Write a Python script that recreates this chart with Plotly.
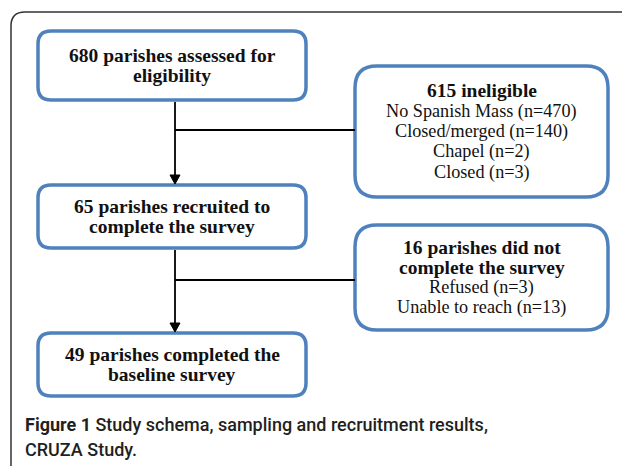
import plotly.graph_objects as go

W, H = 622, 466

main_labels = [
    ["680 parishes assessed for", "eligibility"],
    ["65 parishes recruited to", "complete the survey"],
    ["49 parishes completed the", "baseline survey"],
]
side_titles = [["615 ineligible"], ["16 parishes did not", "complete the survey"]]
side_items = [
    ["No Spanish Mass (n=470)", "Closed/merged (n=140)", "Chapel (n=2)", "Closed (n=3)"],
    ["Refused (n=3)", "Unable to reach (n=13)"],
]
caption_lines = [
    "<b>Figure 1</b> Study schema, sampling and recruitment results,",
    "CRUZA Study.",
]

BLUE = "#4f81bd"
SERIF = "Liberation Serif"
TXT = "#111111"
LS = 20.3

# box geometry (x0, y0, x1, y1)
main_boxes = [(38, 31, 306, 100), (38, 185, 306, 248), (38, 333, 306, 396)]
side_boxes = [(355, 66, 608, 197), (355, 225, 608, 330)]
branch_y = [130, 280]
stem_x = 175


def rrect(x0, y0, x1, y1, r):
    return (f"M{x0+r},{y0} L{x1-r},{y0} Q{x1},{y0} {x1},{y0+r} "
            f"L{x1},{y1-r} Q{x1},{y1} {x1-r},{y1} L{x0+r},{y1} "
            f"Q{x0},{y1} {x0},{y1-r} L{x0},{y0+r} Q{x0},{y0} {x0+r},{y0} Z")


shapes = []
annotations = []


def add_lines(cx, cy, lines):
    n = len(lines)
    for k, (txt, bold) in enumerate(lines):
        y = cy + (k - (n - 1) / 2) * LS
        annotations.append(dict(
            x=cx, y=y, xref="x", yref="y", showarrow=False,
            text=f"<b>{txt}</b>" if bold else txt,
            font=dict(family=SERIF, size=19.5 if bold else 18.2, color=TXT)))


# outer frame
shapes.append(dict(type="path", xref="x", yref="y",
                   path="M11,470 L11,26 Q11,12 25,12 L640,12",
                   line=dict(color="#333333", width=1.5)))

for (x0, y0, x1, y1), lab in zip(main_boxes, main_labels):
    shapes.append(dict(type="path", xref="x", yref="y", path=rrect(x0, y0, x1, y1, 13),
                       line=dict(color=BLUE, width=3.5), fillcolor="white"))
    add_lines((x0 + x1) / 2, (y0 + y1) / 2, [(t, True) for t in lab])

for (x0, y0, x1, y1), t, items in zip(side_boxes, side_titles, side_items):
    shapes.append(dict(type="path", xref="x", yref="y", path=rrect(x0, y0, x1, y1, 22),
                       line=dict(color=BLUE, width=3.5), fillcolor="white"))
    add_lines((x0 + x1) / 2, (y0 + y1) / 2,
              [(s, True) for s in t] + [(s, False) for s in items])

# connectors
for i in range(2):
    top = main_boxes[i][3]
    bot = main_boxes[i + 1][1]
    shapes.append(dict(type="line", xref="x", yref="y", x0=stem_x, x1=stem_x,
                       y0=top + 2, y1=bot - 8, line=dict(color="black", width=1.8)))
    shapes.append(dict(type="path", xref="x", yref="y",
                       path=f"M{stem_x-5},{bot-10} L{stem_x+5},{bot-10} L{stem_x},{bot-1} Z",
                       fillcolor="black", line=dict(color="black", width=1)))
    shapes.append(dict(type="line", xref="x", yref="y", x0=stem_x, x1=side_boxes[i][0],
                       y0=branch_y[i], y1=branch_y[i], line=dict(color="black", width=1.8)))

for k, line in enumerate(caption_lines):
    annotations.append(dict(x=23, y=424 + 25 * k, xref="x", yref="y", xanchor="left",
                            yanchor="middle", text=line, showarrow=False, align="left",
                            font=dict(family="Roboto", size=18, weight=500, color="#231f20")))

fig = go.Figure()
fig.update_layout(
    width=W, height=H, margin=dict(l=0, r=0, t=0, b=0),
    paper_bgcolor="white", plot_bgcolor="white",
    xaxis=dict(range=[0, W], visible=False, fixedrange=True),
    yaxis=dict(range=[H, 0], visible=False, fixedrange=True),
    shapes=shapes, annotations=annotations, showlegend=False,
)
fig.write_html("out.html", config={"displayModeBar": False},
               post_script="document.body.style.margin='0px';document.body.style.overflow='hidden';")
